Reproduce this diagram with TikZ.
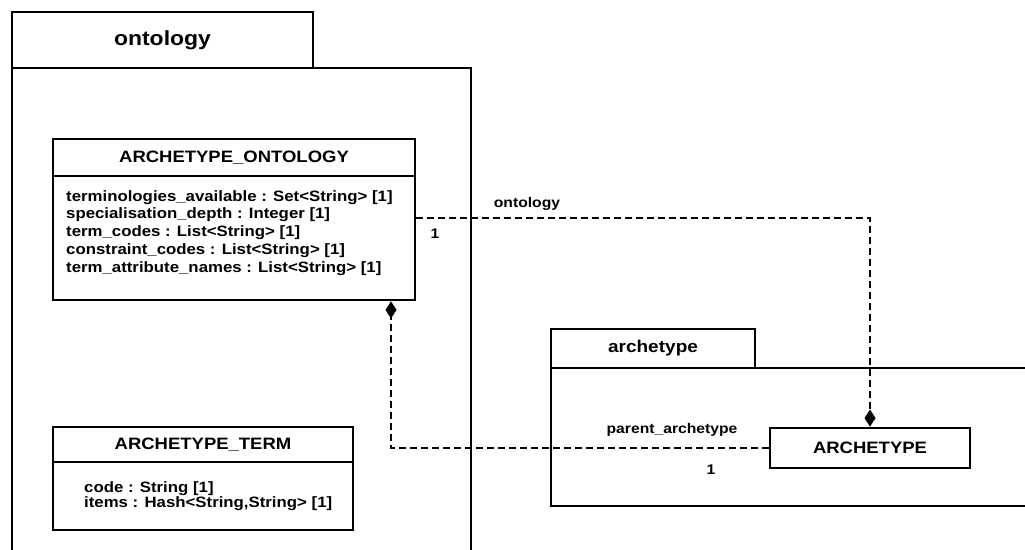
\documentclass[tikz,border=0pt]{standalone}
\usepackage{fontspec}
\setmainfont{Liberation Sans}
\newfontfamily\umlfont[FakeStretch=1.12]{Liberation Sans}
\usetikzlibrary{arrows.meta}

\begin{document}
\begin{tikzpicture}[x=1pt, y=-1pt,
  box/.style={draw, line width=2.8pt, inner sep=0pt},
  pkgtab/.style={box, font=\umlfont\bfseries\fontsize{20.5}{22}\selectfont},
  subtab/.style={box, font=\umlfont\bfseries\fontsize{17}{18}\selectfont},
  classhead/.style={box, font=\umlfont\bfseries\fontsize{16.5}{18}\selectfont},
  attrs/.style={inner sep=0pt, anchor=north west, align=left,
    font=\umlfont\bfseries\fontsize{15}{17.8}\selectfont},
  attrstight/.style={attrs, font=\umlfont\bfseries\fontsize{15}{14}\selectfont},
  rolelabel/.style={inner sep=0pt, font=\umlfont\bfseries\fontsize{14}{15}\selectfont},
  multlabel/.style={inner sep=0pt, font=\umlfont\bfseries\fontsize{14}{15}\selectfont},
  link/.style={line width=2.3pt, dash pattern=on 7pt off 4pt,
    -{Diamond[length=17pt, width=11pt, fill=black, line width=0.6pt, sep=0pt]}}
]
\useasboundingbox (0,0) rectangle (1025,549);
\clip (0,0) rectangle (1025,549);

% package "ontology": tab and body (the body runs past the lower edge)
\node[pkgtab, minimum width=301pt, minimum height=56pt] (ontotab) at (162.5,40) {ontology};
\node[box, minimum width=459pt, minimum height=492pt] (ontobody) at (241.5,314) {};

% package "archetype": tab and body (the body runs past the right edge)
\node[subtab, minimum width=204pt, minimum height=39pt] (archtab) at (653,348.5) {archetype};
\node[box, minimum width=489pt, minimum height=138pt] (archbody) at (795.5,437) {};

% class ARCHETYPE_ONTOLOGY
\node[classhead, minimum width=362pt, minimum height=37pt] (ontohead) at (234,157.5) {ARCHETYPE\_ONTOLOGY};
\node[box, minimum width=362pt, minimum height=124pt] (ontoattr) at (234,238) {};
\node[attrs] (ontoattrtext) at (66,190) {terminologies\_available : Set<String> [1]\\
specialisation\_depth : Integer [1]\\
term\_codes : List<String> [1]\\
constraint\_codes : List<String> [1]\\
term\_attribute\_names : List<String> [1]};

% class ARCHETYPE_TERM
\node[classhead, minimum width=300pt, minimum height=35pt] (termhead) at (203,444.5) {ARCHETYPE\_TERM};
\node[box, minimum width=300pt, minimum height=68pt] (termattr) at (203,496) {};
\node[attrstight] (termattrtext) at (84,481) {code : String [1]\\
items : Hash<String,String> [1]};

% class ARCHETYPE
\node[classhead, minimum width=200pt, minimum height=40pt] (arche) at (870,448) {ARCHETYPE};

% associations
\draw[link] ([yshift=20pt]ontoattr.east) -| (arche.north);
\draw[link] (arche.west) -| ([xshift=157pt]ontoattr.south);

% association labels
\node[rolelabel] (ontorole) at (527,204) {ontology};
\node[multlabel] (ontomult) at (435,234) {1};
\node[rolelabel] (parentrole) at (672,430) {parent\_archetype};
\node[multlabel] (parentmult) at (711,470) {1};
\end{tikzpicture}
\end{document}
